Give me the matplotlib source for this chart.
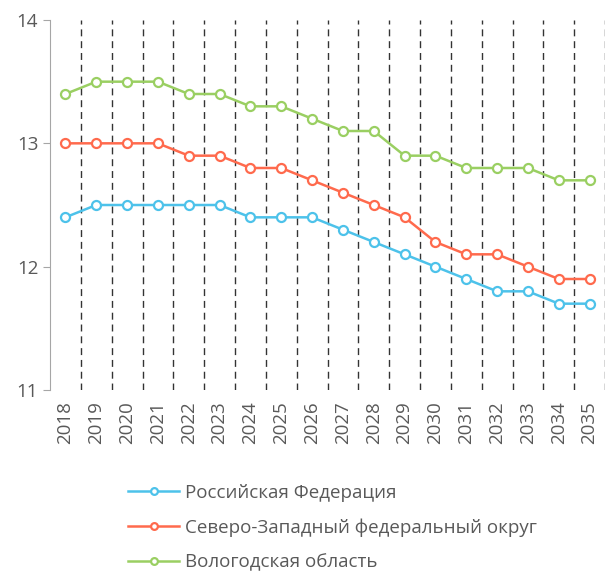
import matplotlib
matplotlib.use("Agg")
import matplotlib.pyplot as plt
import numpy as np

plt.rcParams['font.family'] = ['Open Sans', 'DejaVu Sans']

years = [str(y) for y in range(2018, 2036)]
russia = [12.4, 12.5, 12.5, 12.5, 12.5, 12.5, 12.4, 12.4, 12.4, 12.3, 12.2, 12.1, 12.0, 11.9, 11.8, 11.8, 11.7, 11.7]
nwfd = [13.0, 13.0, 13.0, 13.0, 12.9, 12.9, 12.8, 12.8, 12.7, 12.6, 12.5, 12.4, 12.2, 12.1, 12.1, 12.0, 11.9, 11.9]
vologda = [13.4, 13.5, 13.5, 13.5, 13.4, 13.4, 13.3, 13.3, 13.2, 13.1, 13.1, 12.9, 12.9, 12.8, 12.8, 12.8, 12.7, 12.7]
labels = ["Российская Федерация", "Северо-Западный федеральный округ", "Вологодская область"]
colors = ["#4DC2EA", "#FF6A4D", "#9ACF62"]

fig = plt.figure(figsize=(6.06, 5.74), dpi=100)
ax = fig.add_axes([50/606, 1-390/574, 555/606, 370/574])

x = np.arange(len(years))
for i in range(len(years)):
    ax.axvline(i + 0.5, color="#333333", linestyle=(0, (5, 3.5)), linewidth=1, zorder=1)

for ser, lab, col in zip([russia, nwfd, vologda], labels, colors):
    ax.plot(x, ser, '-o', color=col, label=lab, linewidth=1.8, markersize=6.5,
            markerfacecolor="white", markeredgewidth=1.6, zorder=3)

ax.set_xlim(-0.5, 17.5)
ax.set_ylim(11, 14)
ax.set_yticks([11, 12, 13, 14])
ax.set_xticks(x)
ax.set_xticklabels(years, rotation=90)
for s in ["top", "right", "bottom"]:
    ax.spines[s].set_visible(False)
ax.spines["left"].set_color("#A6A6A6")
ax.tick_params(axis="y", colors="#A6A6A6", labelcolor="#595959", labelsize=13.5, length=5, direction="out")
ax.tick_params(axis="x", length=0, labelcolor="#595959", labelsize=13.5, pad=8)

fig.legend(loc="upper left", bbox_to_anchor=(111/606, 1-467/574), frameon=False,
           fontsize=13.5, labelcolor="#595959", handlelength=2.75, labelspacing=0.88,
           handletextpad=0.28, markerscale=0.75)

fig.savefig("out.png", dpi=100)
